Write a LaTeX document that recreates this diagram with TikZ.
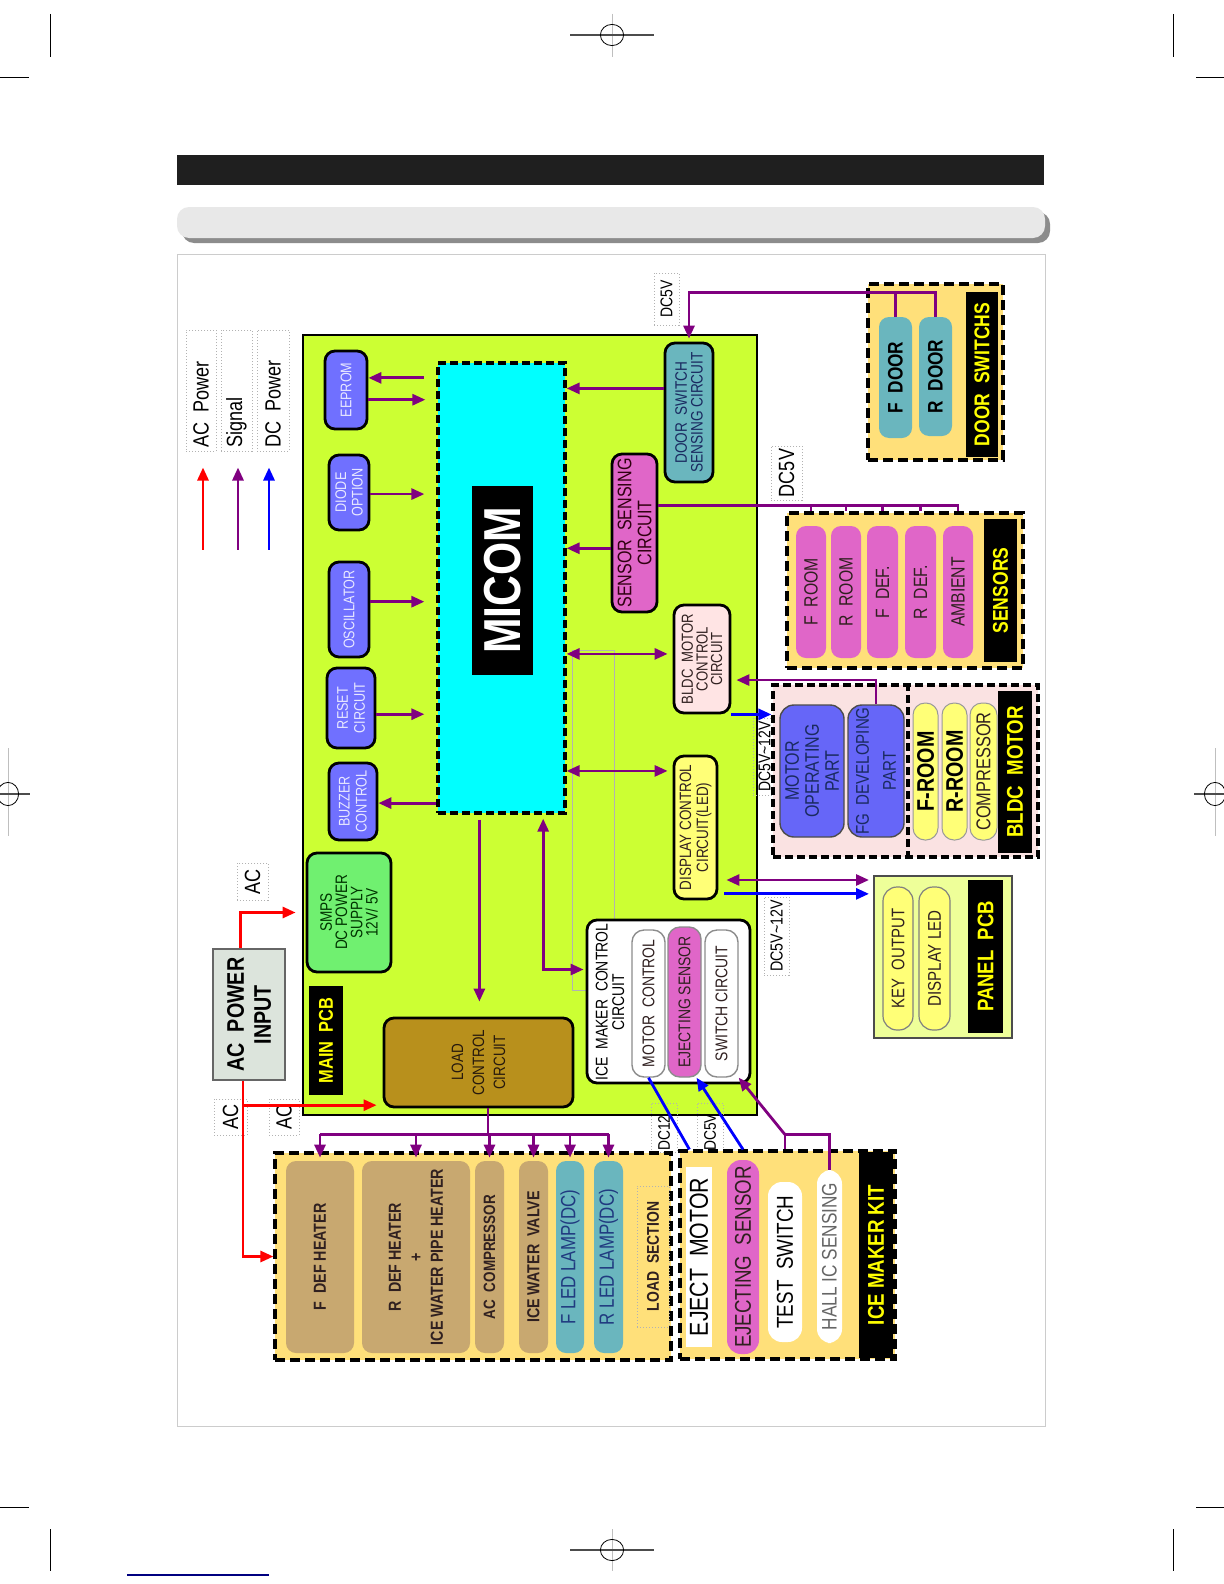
\documentclass[tikz,border=0pt]{standalone}
\usepackage{fontspec}
\setmainfont{Liberation Sans}
\newfontfamily\nf[FakeStretch=0.82]{Liberation Sans}
\usetikzlibrary{calc,arrows.meta}
\definecolor{pcbg}{HTML}{CCFF33}
\definecolor{micc}{HTML}{00FFFF}
\definecolor{bluebx}{HTML}{7070FF}
\definecolor{bluetx}{HTML}{E8E8FF}
\definecolor{pinkc}{HTML}{E066C8}
\definecolor{tealc}{HTML}{6AB6BE}
\definecolor{bcpink}{HTML}{FFE4E4}
\definecolor{yelc}{HTML}{FFFF77}
\definecolor{lccb}{HTML}{B8901C}
\definecolor{smpsg}{HTML}{70F070}
\definecolor{loadbg}{HTML}{FFE07A}
\definecolor{tanc}{HTML}{C8A870}
\definecolor{sigp}{HTML}{800080}
\definecolor{bldcbg}{HTML}{FAE2E2}
\definecolor{panelg}{HTML}{EEFF99}
\definecolor{acgray}{HTML}{DCE4DC}
\definecolor{mopb}{HTML}{6666F8}
\definecolor{navyt}{HTML}{1A2A60}
\definecolor{darkt}{HTML}{302020}
\definecolor{ledt}{HTML}{203A80}
\definecolor{ylab}{HTML}{FFFF00}
\newcommand\FS[2]{\nf\fontsize{#1}{#2}\selectfont}
\newcommand\mybox[8]{%
  \node[#1,minimum width={(#5-#3)*0.5pt},minimum height={(#6-#4)*0.5pt}] (#2) at ({(#3+#5)/2},{(#4+#6)/2}) {};%
  \node[rotate=90,align=center,inner sep=0pt,#7] (#2t) at (#2.center) {#8};}
\tikzset{
  blk/.style={fill=black,draw=none,inner sep=0pt},
  rbx/.style={draw=black,line width=1.4pt,rounded corners=5pt,inner sep=0pt},
  pill/.style={draw=none,rounded corners=5pt,inner sep=0pt},
  dbx/.style={draw=black,line width=1.6pt,dash pattern=on 5pt off 2.5pt,fill=loadbg,inner sep=0pt},
  lbl/.style={draw=gray!60,line width=0.5pt,densely dotted,inner sep=0pt},
  sig/.style={draw=sigp,line width=1.4pt},
  acp/.style={draw=red,line width=1.4pt},
  dcp/.style={draw=blue,line width=1.4pt},
}
\begin{document}
\begin{tikzpicture}[x=0.5pt,y=-0.5pt,>={Triangle[length=6.5pt,width=5.5pt]}]
\useasboundingbox (0,0) rectangle (1224,1584);
\fill[white] (0,0) rectangle (1224,1584);
% ---- page marks
\begin{scope}[line width=0.5pt]
\draw (50,14)--(50,57); \draw (1173,14)--(1173,57);
\draw (0,78)--(29,78); \draw (1196,78)--(1224,78);
\draw (50,1529)--(50,1571); \draw (1173,1529)--(1173,1571);
\draw (0,1507)--(29,1507); \draw (1196,1507)--(1224,1507);
\draw[gray!50,line width=0.3pt] (612,14)--(612,57);
\draw[gray!50,line width=0.3pt] (612,1529)--(612,1571);
\draw[black!70,line width=0.9pt] (570,35)--(654,35);
\draw[black!70,line width=0.9pt] (570,1550)--(654,1550);
\draw[line width=0.4pt] (612,35) ellipse [x radius=5.8pt,y radius=5.3pt];
\draw[line width=0.4pt] (612,1550) ellipse [x radius=5.8pt,y radius=5.3pt];
\draw[gray!50,line width=0.3pt] (8,748)--(8,836);
\draw[black!70,line width=0.9pt] (0,794)--(30,794);
\draw[line width=0.4pt] (8,794) ellipse [x radius=5.3pt,y radius=5.8pt];
\draw[gray!50,line width=0.3pt] (1215,748)--(1215,836);
\draw[black!70,line width=0.9pt] (1194,794)--(1224,794);
\draw[line width=0.4pt] (1215,794) ellipse [x radius=5.3pt,y radius=5.8pt];
\end{scope}
\fill[black!88] (177,155) rectangle (1044,185);
\fill[black!45,rounded corners=6pt] (182,212) rectangle (1050,243);
\fill[black!9,rounded corners=6pt] (177,207) rectangle (1045,238);
\draw[black!20,line width=0.5pt] (177,254) rectangle (1045,1426);
\draw[blue!50!black,line width=1pt] (127,1575)--(269,1575);
% ---- legend
\mybox{lbl}{legac}{186}{330}{216}{451}{}{}
\mybox{lbl}{legsig}{221}{330}{252}{451}{}{}
\mybox{lbl}{legdc}{257}{330}{289}{451}{}{}
\node[rotate=90,anchor=west,inner sep=0pt,font=\FS{11}{12}] (legact) at (201,448) {AC\ \ Power};
\node[rotate=90,anchor=west,inner sep=0pt,font=\FS{11}{12}] (legsigt) at (236.5,448) {Signal};
\node[rotate=90,anchor=west,inner sep=0pt,font=\FS{11}{12}] (legdct) at (273,448) {DC\ \ Power};
\draw[acp,->] ($(legac.south)+(2,98)$) -- ($(legac.south)+(2,16)$);
\draw[sig,->] ($(legsig.south)+(1.5,98)$) -- ($(legsig.south)+(1.5,16)$);
\draw[dcp,->] ($(legdc.south)+(-4,98)$) -- ($(legdc.south)+(-4,16)$);
% ---- main pcb
\mybox{fill=pcbg,draw=black,line width=1.2pt,inner sep=0pt}{pcb}{303}{335}{757}{1115}{}{}
\draw[gray!60,line width=0.4pt] (572,650) rectangle (614,990);
\mybox{fill=micc,draw=black,line width=1.6pt,dash pattern=on 4pt off 2pt,inner sep=0pt}{mic}{438}{363}{565}{813}{}{}
\mybox{blk}{micl}{472}{486}{533}{675}{font=\FS{26}{28}\bfseries,text=white}{MICOM}
\mybox{rbx,fill=bluebx}{ee}{325}{351}{367}{429}{font=\FS{7.7}{8.5},text=bluetx}{EEPROM}
\mybox{rbx,fill=bluebx}{dio}{329}{455}{369}{530}{font=\FS{7.7}{8.3},text=bluetx}{DIODE\\OPTION}
\mybox{rbx,fill=bluebx}{osc}{329}{562}{369}{657}{font=\FS{7.7}{8.5},text=bluetx}{OSCILLATOR}
\mybox{rbx,fill=bluebx}{rst}{327}{668}{375}{748}{font=\FS{7.7}{8.5},text=bluetx}{RESET\\CIRCUIT}
\mybox{rbx,fill=bluebx}{buz}{329}{763}{377}{840}{font=\FS{7.7}{8.5},text=bluetx}{BUZZER\\CONTROL}
\mybox{rbx,fill=smpsg}{smps}{307}{853}{391}{972}{font=\FS{8.3}{7.6},text=black!80!green}{SMPS\\DC POWER\\SUPPLY\\12V/ 5V}
\mybox{blk}{mpl}{309}{986}{343}{1095}{font=\FS{10}{11}\bfseries,text=ylab}{MAIN\ \ PCB}
\mybox{rbx,fill=lccb}{lcc}{384}{1018}{573}{1107}{font=\FS{8.2}{10.5},text=black!80!brown}{LOAD\\CONTROL\\CIRCUIT}
\mybox{fill=acgray,draw=black!60,line width=1pt,inner sep=0pt}{acin}{213}{949}{285}{1080}{font=\FS{12}{13.5}\bfseries}{AC\ \ POWER\\INPUT}
\mybox{rbx,fill=white}{imc}{587}{920}{750}{1083}{}{}
\node[rotate=90,align=center,inner sep=0pt,font=\FS{8.5}{8.3}] (imct) at (610,1002) {ICE\ \ MAKER\ \ CONTROL\\CIRCUIT};
\mybox{fill=white,draw=black!45,line width=0.7pt,rounded corners=6pt,inner sep=0pt}{mc}{632}{930}{665}{1077}{font=\FS{8.5}{9},text=darkt}{MOTOR\ \ CONTROL}
\mybox{fill=pinkc,draw=black!45,line width=0.7pt,rounded corners=6pt,inner sep=0pt}{ejs}{668}{927}{701}{1077}{font=\FS{8.5}{9},text=darkt}{EJECTING SENSOR}
\mybox{fill=white,draw=black!45,line width=0.7pt,rounded corners=6pt,inner sep=0pt}{sw}{705}{930}{738}{1077}{font=\FS{8.5}{9},text=darkt}{SWITCH CIRCUIT}
\mybox{rbx,fill=yelc}{disp}{674}{756}{717}{899}{font=\FS{8.2}{8.5},text=darkt}{DISPLAY CONTROL\\CIRCUIT(LED)}
\mybox{rbx,fill=bcpink}{bc}{674}{605}{730}{713}{font=\FS{8}{7.3},text=darkt}{BLDC\ \ MOTOR\\CONTROL\\CIRCUIT}
\mybox{rbx,fill=pinkc}{ssc}{612}{454}{657}{612}{font=\FS{9.8}{10},text=black!75!purple}{SENSOR\ \ SENSING\\CIRCUIT}
\mybox{rbx,fill=tealc}{dss}{665}{343}{713}{482}{font=\FS{8.3}{7.8},text=navyt}{DOOR\ \ SWITCH\\SENSING CIRCUIT}
% ---- labels
\mybox{lbl}{dcl1}{654}{273}{679}{325}{font=\FS{8.5}{9}}{DC5V}
\mybox{lbl}{dcl2}{771}{446}{802}{500}{font=\FS{11}{12}}{DC5V}
\mybox{lbl}{dcl3}{753}{718}{776}{795}{font=\FS{8.5}{9}}{DC5V\textasciitilde12V}
\mybox{lbl}{dcl4}{764}{897}{789}{975}{font=\FS{8.7}{9}}{DC5V\textasciitilde12V}
\mybox{lbl}{dcl5}{651}{1103}{677}{1152}{}{}
\node[rotate=90,anchor=west,inner sep=0pt,font=\FS{8.4}{9}] (dcl5t) at (664,1151) {DC12};
\mybox{lbl}{dcl6}{697}{1103}{723}{1152}{}{}
\node[rotate=90,anchor=west,inner sep=0pt,font=\FS{8.4}{9}] (dcl6t) at (710,1151) {DC5V};
\mybox{lbl}{acl1}{237}{863}{268}{900}{font=\FS{11}{12}}{AC}
\mybox{lbl}{acl2}{214}{1099}{247}{1135}{font=\FS{11}{12}}{AC}
\mybox{lbl}{acl3}{269}{1099}{299}{1135}{font=\FS{11}{12}}{AC}
% ---- door switches
\mybox{dbx}{doorbox}{868}{284}{1003}{460}{}{}
\mybox{pill,fill=tealc}{fdoor}{879}{317}{912}{438}{font=\FS{10.5}{11}\bfseries}{F\ \ DOOR}
\mybox{pill,fill=tealc}{rdoor}{919}{317}{952}{436}{font=\FS{10.5}{11}\bfseries}{R\ \ DOOR}
\mybox{blk}{doorl}{966}{292}{998}{457}{font=\FS{10.7}{11}\bfseries,text=ylab}{DOOR\ \ SWITCHS}
% ---- sensors
\mybox{dbx}{sbox}{787}{513}{1023}{668}{}{}
\mybox{pill,fill=pinkc}{sfr}{796}{526}{826}{658}{font=\FS{9.6}{10},text=darkt}{F\ \ ROOM}
\mybox{pill,fill=pinkc}{srr}{831}{526}{861}{658}{font=\FS{9.6}{10},text=darkt}{R\ \ ROOM}
\mybox{pill,fill=pinkc}{sfd}{867}{526}{898}{658}{font=\FS{9.6}{10},text=darkt}{F\ \ DEF.}
\mybox{pill,fill=pinkc}{srd}{905}{526}{936}{658}{font=\FS{9.6}{10},text=darkt}{R\ \ DEF.}
\mybox{pill,fill=pinkc}{samb}{943}{526}{973}{658}{font=\FS{9.6}{10},text=darkt}{AMBIENT}
\mybox{blk}{slab}{984}{519}{1017}{662}{font=\FS{10.7}{11}\bfseries,text=ylab}{SENSORS}
% ---- BLDC motor
\mybox{draw=black,line width=1.6pt,dash pattern=on 4pt off 2pt,fill=bldcbg,inner sep=0pt}{bbox}{773}{685}{1038}{857}{}{}
\draw[line width=1.6pt,dash pattern=on 4pt off 2pt] ($(bbox.north west)!0.509!(bbox.north east)$) -- ($(bbox.south west)!0.509!(bbox.south east)$);
\mybox{fill=mopb,draw=black!70,line width=0.7pt,rounded corners=7pt,inner sep=0pt}{mop}{780}{705}{844}{837}{font=\FS{9.8}{10},text=navyt}{MOTOR\\OPERATING\\PART}
\mybox{fill=mopb,draw=black!70,line width=0.7pt,rounded corners=7pt,inner sep=0pt}{fg}{848}{705}{904}{837}{font=\FS{9.2}{13.5},text=navyt}{FG\ \ DEVELOPING\\PART}
\mybox{fill=yelc,draw=black!40,line width=0.5pt,rounded corners=6pt,inner sep=0pt}{bfr}{913}{703}{938}{840}{font=\FS{12}{12}\bfseries}{F-ROOM}
\mybox{fill=yelc,draw=black!40,line width=0.5pt,rounded corners=6pt,inner sep=0pt}{brr}{942}{703}{967}{840}{font=\FS{12}{12}\bfseries}{R-ROOM}
\mybox{fill=yelc,draw=black!40,line width=0.5pt,rounded corners=6pt,inner sep=0pt}{bcomp}{970}{703}{997}{840}{font=\FS{10}{10},text=darkt}{COMPRESSOR}
\mybox{blk}{blab}{998}{691}{1032}{853}{font=\FS{11.4}{12}\bfseries,text=ylab}{BLDC\ \ MOTOR}
% ---- panel pcb
\mybox{fill=panelg,draw=black!70,line width=1pt,inner sep=0pt}{panel}{874}{876}{1012}{1038}{}{}
\mybox{fill=yelc,draw=black!50,line width=0.6pt,rounded corners=7pt,inner sep=0pt}{key}{883}{887}{913}{1030}{font=\FS{9.1}{10},text=darkt}{KEY\ \ OUTPUT}
\mybox{fill=yelc,draw=black!50,line width=0.6pt,rounded corners=7pt,inner sep=0pt}{dled}{919}{887}{950}{1030}{font=\FS{9.2}{10},text=darkt}{DISPLAY LED}
\mybox{blk}{plab}{968}{880}{1003}{1033}{font=\FS{11.3}{12}\bfseries,text=ylab}{PANEL\ \ PCB}
% ---- load section
\mybox{dbx}{lsec}{275}{1153}{671}{1360}{}{}
\mybox{pill,fill=tanc}{fdh}{286}{1161}{354}{1353}{font=\FS{8.7}{10.5}\bfseries,text=darkt}{F\ \ DEF\ HEATER}
\mybox{pill,fill=tanc}{rdh}{362}{1161}{470}{1353}{font=\FS{8.7}{10.5}\bfseries,text=darkt}{R\ \ DEF\ HEATER\\+\\ICE WATER PIPE HEATER}
\mybox{pill,fill=tanc}{acc}{475}{1161}{504}{1353}{font=\FS{8.2}{9}\bfseries,text=darkt}{AC\ \ COMPRESSOR}
\mybox{pill,fill=tanc}{iwv}{519}{1161}{548}{1353}{font=\FS{8.7}{9}\bfseries,text=darkt}{ICE\ WATER\ \ VALVE}
\mybox{pill,fill=tealc}{fled}{556}{1161}{584}{1353}{font=\FS{10.3}{11},text=ledt}{F LED LAMP(DC)}
\mybox{pill,fill=tealc}{rled}{594}{1161}{623}{1353}{font=\FS{10.3}{11},text=ledt}{R LED LAMP(DC)}
\mybox{lbl}{lslab}{637}{1186}{669}{1327}{font=\FS{8.5}{9}\bfseries,text=darkt}{LOAD\ \ SECTION}
% ---- ice maker kit
\mybox{dbx}{ikit}{680}{1151}{895}{1359}{}{}
\mybox{fill=white,draw=none,inner sep=0pt}{em}{686}{1167}{712}{1347}{font=\FS{13}{13}}{EJECT\ \ MOTOR}
\mybox{pill,fill=pinkc,rounded corners=7pt}{ejk}{727}{1160}{759}{1354}{font=\FS{11.4}{12},text=darkt}{EJECTING\ \ SENSOR}
\mybox{pill,fill=white,rounded corners=7pt}{tsw}{768}{1182}{802}{1342}{font=\FS{11.5}{12}}{TEST\ \ SWITCH}
\mybox{pill,fill=white,rounded corners=7pt}{hall}{817}{1170}{842}{1343}{font=\FS{10.5}{11},text=black!60}{HALL IC SENSING}
\mybox{blk}{iklab}{859}{1152}{893}{1358}{font=\FS{11.4}{12}\bfseries,text=ylab}{ICE MAKER KIT}
% ================= connectors
\coordinate (e1) at ($(ee.north east)!0.35!(ee.south east)$);
\coordinate (e2) at ($(ee.north east)!0.62!(ee.south east)$);
\draw[sig,<-,shorten >=6pt] (e1) -- (e1 -| mic.west);
\draw[sig,->,shorten >=5.5pt] (e2) -- (e2 -| mic.west);
\coordinate (o1) at ($(dio.north east)!0.52!(dio.south east)$);
\draw[sig,->,shorten >=6pt] (o1) -- (o1 -| mic.west);
\coordinate (o2) at ($(osc.north east)!0.42!(osc.south east)$);
\draw[sig,->,shorten >=6pt] (o2) -- (o2 -| mic.west);
\coordinate (o3) at ($(rst.north east)!0.575!(rst.south east)$);
\draw[sig,->,shorten >=6pt] (o3) -- (o3 -| mic.west);
\coordinate (o4) at ($(buz.north east)!0.52!(buz.south east)$);
\draw[sig,<-] (o4) -- (o4 -| mic.west);
\coordinate (d1) at ($(dss.north west)!0.33!(dss.south west)$);
\draw[sig,->] (d1) -- (d1 -| mic.east);
\coordinate (s2) at ($(ssc.north west)!0.595!(ssc.south west)$);
\draw[sig,->] (s2) -- (s2 -| mic.east);
\coordinate (b1) at ($(bc.north west)!0.454!(bc.south west)$);
\draw[sig,<->,shorten <=2.5pt] (b1) -- (b1 -| mic.east);
\coordinate (p1) at ($(disp.north west)!0.112!(disp.south west)$);
\draw[sig,<->,shorten <=2.5pt] (p1) -- (p1 -| mic.east);
\coordinate (m1) at ($(mic.south west)!0.33!(mic.south east)$);
\draw[sig,->,shorten <=2.5pt,shorten >=7.5pt] (m1) -- (m1 |- lcc.north);
\coordinate (m2) at ($(mic.south west)!0.82!(mic.south east)$);
\coordinate (i1) at ($(imc.north west)!0.307!(imc.south west)$);
\draw[sig,<->,shorten <=2pt,shorten >=1pt] (m2) |- (i1);
% AC power
\coordinate (a1) at ($(acin.north west)!0.39!(acin.north east)$);
\draw[acp,->,shorten >=5pt] (a1) |- (smps.west);
\coordinate (a2) at ($(acin.south west)!0.42!(acin.south east)$);
\coordinate (l1) at ($(lcc.north west)!0.965!(lcc.south west)$);
\draw[acp,->,shorten >=3pt] (a2) |- (l1);
\draw[acp,->] (a2) |- (lsec.west);
% load bus
\coordinate (l2) at ($(lcc.south west)!0.55!(lcc.south east)$);
\coordinate (bus) at ($(l2)+(0,26)$);
\draw[sig] (l2) -- (bus);
\draw[sig] (bus -| fdh.north) -- (bus -| rled.north);
\foreach \n in {fdh,rdh,acc,iwv,fled,rled} \draw[sig,->,shorten >=1.5pt] (bus -| \n.north) -- (\n.north);
% doors
\coordinate (dbus) at ($(rdoor.north)+(0,-24)$);
\draw[sig,->,shorten >=1.5pt] (rdoor.north) -- (dbus) -- (dbus -| dss.north) -- (dss.north);
\draw[sig] (fdoor.north) -- (fdoor.north |- dbus);
% sensors
\coordinate (s1) at ($(ssc.north east)!0.33!(ssc.south east)$);
\draw[sig] (s1) -- (s1 -| samb.north) -- (samb.north |- sbox.north);
\foreach \n in {sfr,srr,sfd,srd} \draw[sig] (s1 -| \n.north) -- (\n.north |- sbox.north);
% bldc
\coordinate (b2) at ($(bc.north east)!0.69!(bc.south east)$);
\draw[sig,->,shorten >=2.5pt] (fg.north) |- (b2);
\draw[dcp,->] (bc.south east) -- (bc.south east -| bbox.west);
% display / panel
\coordinate (p2) at ($(disp.north east)!0.86!(disp.south east)$);
\draw[sig,<->,shorten <=4pt,shorten >=2pt] (p2) -- (p2 -| panel.west);
\coordinate (p3) at ($(disp.north east)!0.955!(disp.south east)$);
\draw[dcp,->,shorten <=3pt,shorten >=2pt] (p3) -- (p3 -| panel.west);
% ice maker
\coordinate (hb) at ($(hall.north)+(0,-35)$);
\draw[sig] (hall.north) -- (hb) -- (hb -| tsw.north) -- (tsw.north |- ikit.north);
\draw[sig,->] (hb -| tsw.north) -- (sw.south east);
\draw[dcp] (mc.south) -- ($(ikit.north west)+(11,0)$);
\draw[dcp,->] (ejk.north |- ikit.north) -- ($(ejs.south)!0.7!(ejs.south east)$);
\end{tikzpicture}
\end{document}
